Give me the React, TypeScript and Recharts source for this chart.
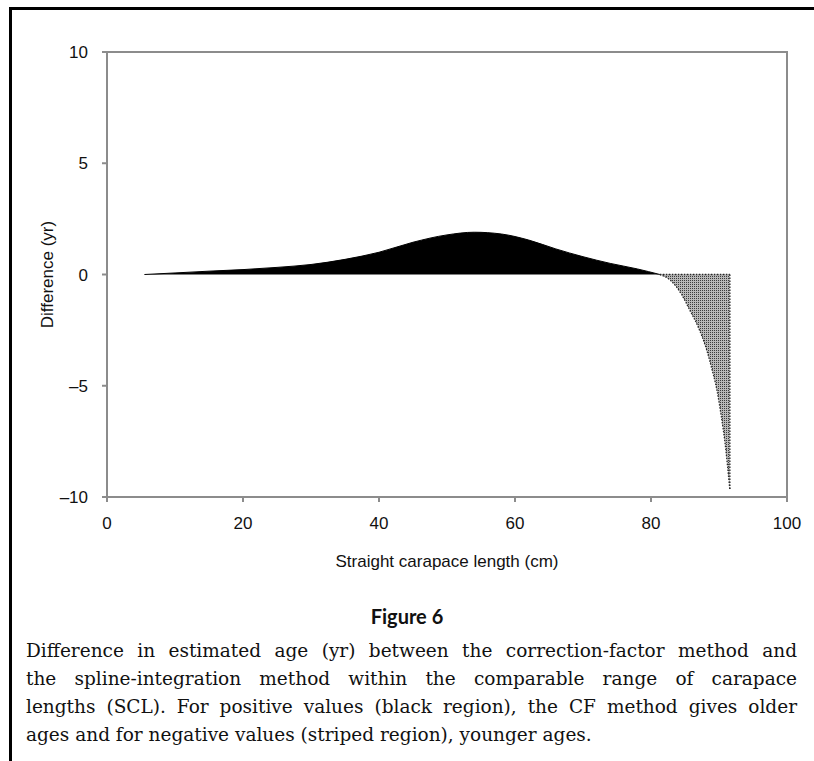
import {
  Area,
  ComposedChart,
  ReferenceArea,
  ReferenceLine,
  XAxis,
  YAxis,
} from "recharts";

// SCL (cm) and age difference (yr) where the CF method gives older ages
const posX = [5.5, 10, 15, 20, 25, 30, 35, 40, 45, 50, 54, 58, 62, 66, 70, 74, 78, 81.3];
const posY = [0, 0.07, 0.15, 0.22, 0.32, 0.45, 0.68, 1.0, 1.45, 1.78, 1.9, 1.82, 1.55, 1.15, 0.8, 0.5, 0.25, 0];

// ...and where it gives younger ages
const negX = [81.3, 83, 84.5, 85.7, 87, 88.2, 89, 89.7, 90.3, 90.9, 91.6];
const negY = [0, -0.3, -0.9, -1.6, -2.4, -3.4, -4.3, -5.2, -6.3, -7.6, -9.7];

const xTicks = [0, 20, 40, 60, 80, 100];
const yTicks = [-10, -5, 0, 5, 10];

const captionLines = [
  "Difference in estimated age (yr) between the correction-factor method and",
  "the spline-integration method within the comparable range of carapace",
  "lengths (SCL). For positive values (black region), the CF method gives older",
  "ages and for negative values (striped region), younger ages.",
];

const axisGray = "#8c8c8c";
const sans = "'Liberation Sans', Arial, sans-serif";

const posData = posX.map((x, i) => ({ x, v: posY[i] }));
const negData = negX.map((x, i) => ({ x, v: negY[i] }));
const lastX = negX[negX.length - 1];
const lastY = negY[negY.length - 1];

function fmtTick(v: number): string {
  return v < 0 ? `\u2013${-v}` : `${v}`;
}

export default function App() {
  const tickStyle = { fontSize: 17, fontFamily: sans, fill: "#111" };
  const dotted = { stroke: "#2a2a2a", strokeWidth: 1.3, strokeDasharray: "1.5 1.5" };

  return (
    <div
      style={{
        position: "absolute",
        left: 0,
        top: 0,
        width: 814,
        height: 761,
        background: "#fff",
        overflow: "hidden",
      }}
    >
      {/* figure frame: top and left rule */}
      <div
        style={{
          position: "absolute",
          left: 9,
          top: 7,
          width: 814,
          height: 780,
          borderTop: "3px solid #000",
          borderLeft: "3px solid #000",
        }}
      />

      <div style={{ position: "absolute", left: 0, top: 0 }}>
        <ComposedChart
          width={814}
          height={600}
          margin={{ top: 52, right: 27, left: 47, bottom: 73 }}
        >
          <defs>
            <pattern id="stipple" width="2" height="2" patternUnits="userSpaceOnUse">
              <rect width="2" height="2" fill="#b8b8b8" />
              <rect x="0" y="0" width="1" height="1" fill="#3c3c3c" />
            </pattern>
          </defs>
          <XAxis
            type="number"
            dataKey="x"
            domain={[0, 100]}
            ticks={xTicks}
            height={30}
            tickSize={5}
            tickMargin={15}
            stroke={axisGray}
            strokeWidth={2}
            tick={tickStyle}
            label={{
              value: "Straight carapace length (cm)",
              position: "bottom",
              offset: 28,
              style: { fontSize: 17, fontFamily: sans, fill: "#111" },
            }}
          />
          <YAxis
            type="number"
            domain={[-10, 10]}
            ticks={yTicks}
            width={60}
            tickSize={5}
            tickMargin={14}
            stroke={axisGray}
            strokeWidth={2}
            tick={tickStyle}
            tickFormatter={fmtTick}
            label={{
              value: "Difference (yr)",
              angle: -90,
              position: "insideLeft",
              offset: 0,
              style: { fontSize: 17, fontFamily: sans, fill: "#111", textAnchor: "middle" },
            }}
          />
          <ReferenceArea
            x1={0}
            x2={100}
            y1={-10}
            y2={10}
            fill="none"
            fillOpacity={0}
            stroke={axisGray}
            strokeWidth={2}
          />
          <Area
            data={posData}
            dataKey="v"
            type="monotone"
            baseValue={0}
            fill="#000"
            fillOpacity={1}
            stroke="#000"
            strokeWidth={1}
            isAnimationActive={false}
          />
          <Area
            data={negData}
            dataKey="v"
            type="monotone"
            baseValue={0}
            fill="url(#stipple)"
            fillOpacity={1}
            {...dotted}
            isAnimationActive={false}
          />
          <ReferenceLine
            segment={[
              { x: negX[0], y: 0 },
              { x: lastX, y: 0 },
            ]}
            {...dotted}
          />
          <ReferenceLine
            segment={[
              { x: lastX, y: 0 },
              { x: lastX, y: lastY },
            ]}
            {...dotted}
          />
        </ComposedChart>
      </div>

      <div
        style={{
          position: "absolute",
          left: 0,
          width: 814,
          top: 604,
          textAlign: "center",
          fontFamily: "Lato, 'Open Sans', sans-serif",
          fontWeight: 700,
          fontSize: 20,
          color: "#111",
        }}
      >
        Figure 6
      </div>

      <div
        style={{
          position: "absolute",
          left: 26,
          width: 771,
          top: 637,
          fontFamily: "'DejaVu Serif', 'Liberation Serif', serif",
          fontSize: 18.5,
          lineHeight: "28px",
          color: "#111",
        }}
      >
        {captionLines.map((line, i) => (
          <div
            key={i}
            style={{
              textAlign: i < captionLines.length - 1 ? "justify" : "left",
              textAlignLast: i < captionLines.length - 1 ? "justify" : "left",
              whiteSpace: "nowrap",
            }}
          >
            {line}
          </div>
        ))}
      </div>
    </div>
  );
}
